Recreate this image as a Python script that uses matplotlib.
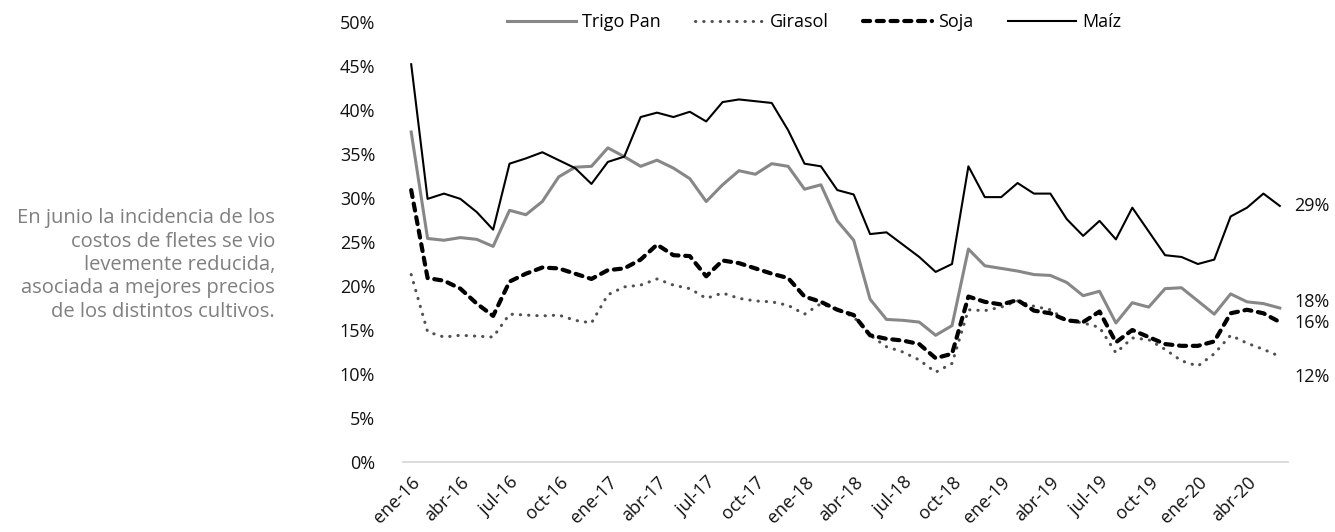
import matplotlib
matplotlib.use("Agg")
import matplotlib.pyplot as plt
import numpy as np

plt.rcParams["font.family"] = ["Open Sans", "DejaVu Sans"]

# Monthly series, ene-16 .. jun-20 (share of freight cost, %)
months = ["ene", "feb", "mar", "abr", "may", "jun", "jul", "ago", "sep", "oct", "nov", "dic"]
periods = [f"{months[i % 12]}-{16 + i // 12}" for i in range(54)]

trigo = [37.5, 25.4, 25.2, 25.5, 25.3, 24.5, 28.6, 28.1, 29.6, 32.4, 33.5, 33.6,
         35.7, 34.7, 33.6, 34.3, 33.4, 32.2, 29.6, 31.5, 33.1, 32.7, 33.9, 33.6,
         31.0, 31.5, 27.4, 25.2, 18.5, 16.2, 16.1, 15.9, 14.4, 15.5, 24.2, 22.3,
         22.0, 21.7, 21.3, 21.2, 20.4, 18.9, 19.4, 15.8, 18.1, 17.6, 19.7, 19.8,
         18.3, 16.8, 19.1, 18.2, 18.0, 17.5]
girasol = [21.3, 14.8, 14.2, 14.4, 14.3, 14.2, 16.8, 16.7, 16.6, 16.7, 16.1, 15.8,
           19.0, 19.9, 20.1, 20.8, 20.1, 19.7, 18.6, 19.2, 18.6, 18.3, 18.2, 17.8,
           16.8, 18.0, 17.3, 16.5, 14.4, 13.1, 12.5, 11.6, 10.2, 11.2, 17.3, 17.2,
           17.6, 18.3, 17.7, 17.3, 16.1, 15.8, 15.3, 12.4, 14.1, 13.9, 12.8, 11.5,
           10.9, 12.3, 14.4, 13.5, 12.8, 12.0]
soja = [30.9, 20.9, 20.6, 19.7, 18.0, 16.6, 20.5, 21.4, 22.1, 22.0, 21.4, 20.8,
        21.8, 22.0, 23.0, 24.7, 23.5, 23.4, 21.1, 22.9, 22.6, 22.0, 21.4, 20.9,
        18.8, 18.2, 17.3, 16.7, 14.4, 14.0, 13.8, 13.4, 11.8, 12.3, 18.8, 18.2,
        17.9, 18.4, 17.2, 16.9, 16.1, 15.9, 17.1, 13.6, 15.0, 14.2, 13.4, 13.2,
        13.2, 13.7, 16.9, 17.3, 16.9, 15.9]
maiz = [45.2, 29.9, 30.5, 29.9, 28.4, 26.4, 33.9, 34.5, 35.2, 34.3, 33.4, 31.6,
        34.1, 34.7, 39.2, 39.7, 39.2, 39.8, 38.7, 40.9, 41.2, 41.0, 40.8, 37.7,
        33.9, 33.6, 30.9, 30.4, 25.9, 26.1, 24.7, 23.3, 21.6, 22.5, 33.6, 30.1,
        30.1, 31.7, 30.5, 30.5, 27.6, 25.7, 27.4, 25.3, 28.9, 26.2, 23.5, 23.3,
        22.5, 23.0, 27.9, 28.9, 30.5, 29.1]

note = ("En junio la incidencia de los\ncostos de fletes se vio\nlevemente reducida,\n"
        "asociada a mejores precios\nde los distintos cultivos.")

x = np.arange(len(periods))

fig = plt.figure(figsize=(13.35, 5.32), dpi=100)
ax = fig.add_axes([403 / 1335, 70 / 532, 885 / 1335, 440 / 532])

ax.plot(x, trigo, color="#878787", linewidth=2.2, label="Trigo Pan")
ax.plot(x, girasol, color="#505050", linewidth=2.2,
        linestyle=(0, (0.1, 2.6)), dash_capstyle="round", label="Girasol")
ax.plot(x, soja, color="black", linewidth=3.0,
        linestyle=(0, (1.7, 1.6)), dash_capstyle="round", label="Soja")
ax.plot(x, maiz, color="black", linewidth=1.5, label="Maíz")

# end-of-series labels
last_vals = [maiz[-1], trigo[-1], soja[-1], girasol[-1]]
label_shift = [0.0, 0.7, -0.1, -2.3]
for v, s in zip(last_vals, label_shift):
    ax.text(53.9, v + s, f"{v:.0f}%", fontsize=13, color="#111111",
            ha="left", va="center", clip_on=False)

ax.set_xlim(-0.5, 53.5)
ax.set_ylim(0, 50)
ax.set_yticks(np.arange(0, 51, 5))
ax.set_yticklabels([f"{v}%" for v in range(0, 51, 5)], fontsize=13, color="#111111")
ax.set_xticks(x[::3])
ax.set_xticklabels(periods[::3], rotation=45, ha="right", rotation_mode="anchor",
                   fontsize=13, color="#111111")
ax.tick_params(axis="both", length=0)
ax.tick_params(axis="y", pad=20)
ax.tick_params(axis="x", pad=8)

for side in ("top", "right", "left"):
    ax.spines[side].set_visible(False)
ax.spines["bottom"].set_color("#d9d9d9")
ax.spines["bottom"].set_linewidth(1.3)

ax.legend(loc="center", bbox_to_anchor=(0.465, 1.0), ncol=4, frameon=False,
          fontsize=13, handlelength=3.8, handletextpad=0.35, columnspacing=1.9)

fig.text(275 / 1335, 1 - 265 / 532, note, ha="right", va="center", fontsize=14.5,
         color="#7f7f7f", linespacing=1.22)

fig.savefig("out.png", dpi=100)
